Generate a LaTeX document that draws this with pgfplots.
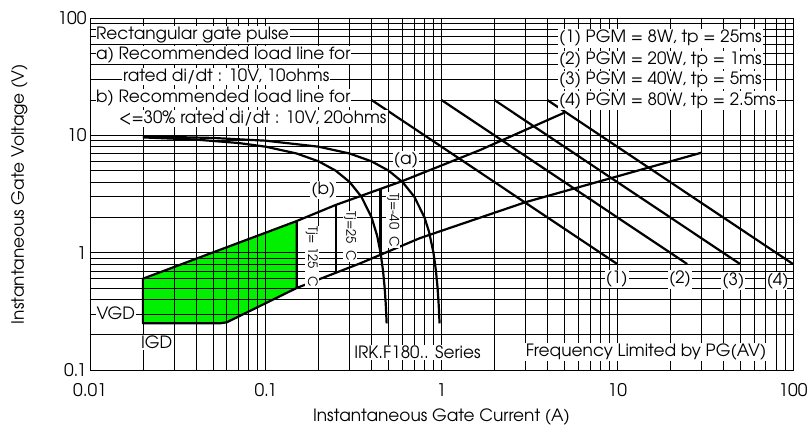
\documentclass[border=0pt]{standalone}
\usepackage{pgfplots}
\pgfplotsset{compat=1.18}
\usepackage{fontspec}
\setmainfont{TeX Gyre Adventor}
\definecolor{gfill}{RGB}{0,240,0}
\pgfplotsset{
  layers/mylayers/.define layer set={axis background,axis grid,main,boxes,axis ticks,axis lines,axis tick labels,axis descriptions,axis foreground}{/pgfplots/layers/standard},
  set layers=mylayers,
}
\tikzset{tb/.style={fill=white,inner sep=1bp,font=\fontsize{17}{19}\selectfont}}
\begin{document}
\begin{tikzpicture}
\begin{axis}[
  scale only axis, width=703bp, height=352bp,
  xmode=log, ymode=log, xmin=0.01, xmax=100, ymin=0.1, ymax=100,
  grid=both,
  major grid style={black, line width=0.8pt},
  minor grid style={black, line width=0.6pt},
  tick style={black, line width=0.6pt},
  major tick length=6bp, minor tick length=6bp,
  tick align=inside,
  axis line style={black, line width=0.9pt},
  xtick={0.01,0.1,1,10,100}, xticklabels={0.01,0.1,1,10,100},
  ytick={0.1,1,10,100}, yticklabels={0.1,1,10,100},
  /pgf/number format/assume math mode=true,
  ticklabel style={font=\fontsize{17.5}{19}\selectfont},
  xticklabel style={yshift=-10bp},
  label style={font=\fontsize{17}{19}\selectfont},
  xlabel={Instantaneous Gate Current (A)},
  ylabel={Instantaneous Gate Voltage (V)},
  xlabel style={yshift=-5bp},
  ylabel style={yshift=23bp},
]
% green area (below the grid)
\addplot[on layer=axis background, fill=gfill, draw=none] coordinates {(0.02,0.6) (0.15,1.86) (0.15,0.5) (0.06,0.255) (0.055,0.25) (0.02,0.25)} -- cycle;
\addplot[black, line width=2.2bp, line join=round] coordinates {(0.02,0.6) (0.15,1.86) (0.15,0.5) (0.06,0.255) (0.055,0.25) (0.02,0.25)} -- cycle;
% load line (a)
\addplot[black, line width=2.2bp] coordinates {(0.15,1.86) (0.25,2.55) (0.6,4.08) (1.66,7.5) (5,15.6)};
% load line (b)
\addplot[black, line width=2.2bp] coordinates {(0.15,0.5) (0.344,0.81) (0.754,1.33) (3,2.69) (30,7.1)};
% Tj lines
\addplot[black, line width=2.2bp] coordinates {(0.25,2.55) (0.25,0.68)};
\addplot[black, line width=2.2bp] coordinates {(0.45,3.5) (0.45,0.98)};
% power lines
\addplot[black, line width=2.2bp] coordinates {(0.4,20) (10,0.8)};
\addplot[black, line width=2.2bp] coordinates {(1,20) (25,0.8)};
\addplot[black, line width=2.2bp] coordinates {(2,20) (50,0.8)};
\addplot[black, line width=2.2bp] coordinates {(4,20) (100,0.8)};
% 20 ohm load curve
\addplot[black, line width=2.2bp] coordinates {(0.02,9.6) (0.04,9.2) (0.07,8.6) (0.1,8.0) (0.15,7.0) (0.2,6.0) (0.25,5.0) (0.3,4.0) (0.35,3.0) (0.4,2.0) (0.43,1.4) (0.45,1.0) (0.465,0.7) (0.475,0.5) (0.482,0.36) (0.4875,0.25)};
% 10 ohm load curve
\addplot[black, line width=2.2bp] coordinates {(0.02,9.8) (0.05,9.5) (0.1,9.0) (0.2,8.0) (0.3,7.0) (0.4,6.0) (0.5,5.0) (0.6,4.0) (0.7,3.0) (0.8,2.0) (0.85,1.5) (0.9,1.0) (0.93,0.7) (0.95,0.5) (0.965,0.35) (0.975,0.25)};
\begin{pgfonlayer}{boxes}
\node[tb, anchor=west] at (rel axis cs:0.0071,0.952) {Rectangular gate pulse};
\node[tb, anchor=west] at (rel axis cs:0.0071,0.895) {a) Recommended load line for};
\node[tb, anchor=west] at (rel axis cs:0.0455,0.833) {rated di/dt : 10V, 10ohms};
\node[tb, anchor=west] at (rel axis cs:0.0071,0.772) {b) Recommended load line for};
\node[tb, anchor=west] at (rel axis cs:0.0398,0.715) {<=30\% rated di/dt : 10V, 20ohms};
\node[tb, anchor=west] at (rel axis cs:0.6657,0.942) {(1) PGM = 8W, tp = 25ms};
\node[tb, anchor=west] at (rel axis cs:0.6657,0.881) {(2) PGM = 20W, tp = 1ms};
\node[tb, anchor=west] at (rel axis cs:0.6657,0.824) {(3) PGM = 40W, tp = 5ms};
\node[tb, anchor=west] at (rel axis cs:0.6657,0.765) {(4) PGM = 80W, tp = 2.5ms};
\node[tb] at (rel axis cs:0.4659,0.051) {IRK.F180.. Series};
\node[tb] at (rel axis cs:0.791,0.051) {Frequency Limited by PG(AV)};
\node[tb] at (rel axis cs:0.0367,0.161) {VGD};
\node[tb] at (rel axis cs:0.0949,0.0776) {IGD};
\node[tb] at (rel axis cs:0.4495,0.5966) {(a)};
\node[tb] at (rel axis cs:0.3319,0.5114) {(b)};
\node[tb] at (rel axis cs:0.7492,0.2577) {(1)};
\node[tb] at (rel axis cs:0.8393,0.2577) {(2)};
\node[tb] at (rel axis cs:0.9151,0.2528) {(3)};
\node[tb] at (rel axis cs:0.9782,0.2528) {(4)};
\node[tb, rotate=-90, font=\fontsize{13}{14}\selectfont] at (rel axis cs:0.3154,0.3219) {Tj= 125\ \ C};
\node[tb, rotate=-90, font=\fontsize{13}{14}\selectfont] at (rel axis cs:0.3698,0.3787) {Tj=25\ \ C};
\node[tb, rotate=-90, font=\fontsize{13}{14}\selectfont] at (rel axis cs:0.4314,0.4261) {Tj=-40\ \ C};
\end{pgfonlayer}
\end{axis}
\pgfresetboundingbox
\useasboundingbox (-90bp,-62bp) rectangle (717bp,370bp);
\end{tikzpicture}
\end{document}
